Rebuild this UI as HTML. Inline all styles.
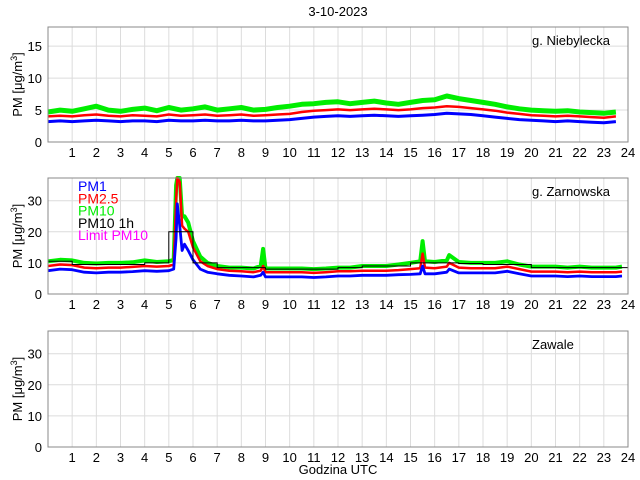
<!DOCTYPE html>
<html><head><meta charset="utf-8"><style>
body{margin:0;background:#fff;}
svg{display:block;font-family:"Liberation Sans",sans-serif;}
</style></head><body>
<svg id="c" width="640" height="480"></svg>
<script>
// Panel 1 data (g. Niebylecka), half-hour steps from 0
const niebyPM1=[3.2,3.3,3.2,3.3,3.4,3.3,3.2,3.3,3.3,3.2,3.4,3.3,3.3,3.4,3.3,3.3,3.4,3.3,3.3,3.4,3.5,3.7,3.9,4.0,4.1,4.0,4.1,4.2,4.1,4.0,4.1,4.2,4.3,4.5,4.4,4.3,4.1,3.9,3.7,3.5,3.4,3.3,3.2,3.3,3.2,3.1,3.0,3.2];
const niebyPM25=[4.0,4.1,4.0,4.2,4.3,4.1,4.0,4.2,4.1,4.0,4.3,4.1,4.2,4.3,4.1,4.2,4.3,4.1,4.2,4.3,4.4,4.7,4.9,5.0,5.1,5.0,5.1,5.2,5.1,5.0,5.1,5.3,5.4,5.6,5.5,5.3,5.1,4.9,4.6,4.4,4.2,4.1,4.0,4.1,4.0,3.9,3.8,4.0];
const niebyPM10=[4.7,5.0,4.8,5.2,5.6,5.0,4.8,5.1,5.3,4.9,5.4,5.0,5.2,5.5,5.0,5.2,5.4,5.0,5.1,5.4,5.6,5.9,6.0,6.2,6.3,6.0,6.2,6.4,6.1,5.9,6.2,6.5,6.6,7.2,6.8,6.5,6.2,5.9,5.5,5.2,5.0,4.9,4.8,4.9,4.7,4.6,4.5,4.7];
// Panel 2 data (g. Zarnowska)
const zarTimes=[0,0.5,1,1.5,2,2.5,3,3.5,4,4.5,5,5.2,5.3,5.35,5.45,5.55,5.65,5.8,6,6.3,6.6,7,7.5,8,8.5,8.8,8.9,9,9.5,10,10.5,11,11.5,12,12.5,13,13.5,14,14.5,15,15.4,15.5,15.6,16,16.5,16.6,17,17.5,18,18.5,19,19.5,20,20.5,21,21.5,22,22.5,23,23.5,23.75];
const zarPM1=[7.5,8,7.8,7,6.8,7,7,7.2,7.5,7.3,7.5,8,18,29,22,14,16,14,11,8,7,6.5,6,5.8,5.5,6,7,5.5,5.5,5.5,5.5,5.3,5.5,5.8,5.8,6,6,6,6.2,6.3,6.5,9,6.5,6.5,7,8,6.8,6.8,6.8,6.8,7.3,6.5,5.8,5.8,5.8,5.6,5.8,5.6,5.6,5.6,5.8];
const zarPM25=[9,9.5,9.3,8.5,8.3,8.5,8.5,8.7,9,8.8,9,9.5,30,38,36,22,21,20,15,10.5,9,8,7.5,7.3,7,7.5,9,7,7,7,7,6.8,7,7.3,7.3,7.5,7.5,7.5,7.7,8,8.3,13,8.5,8.3,8.8,10,8.5,8.3,8.3,8.3,8.8,8,7.2,7.2,7.2,7,7.2,7,7,7,7.2];
const zarPM10=[10.5,11,10.8,10,9.8,10,10,10.2,10.8,10.3,10.5,11,35,38,38,25,25,23,17,12,10,9,8.5,8.5,8.2,9,14.5,8.2,8.2,8.2,8.2,8,8.2,8.5,8.5,9,9,9,9.5,10,10.5,17,10.5,10.3,10.8,12.5,10.3,10,10,10,10.5,9.5,8.8,8.8,8.8,8.5,8.8,8.5,8.5,8.5,8.8];
const zar1hHours=[0,1,2,3,4,5,6,7,8,9,10,11,12,13,14,15,16,17,18,19,20,21,22,23];
const zar1hValues=[10.5,9.5,9.5,9.5,10,20,10,8.5,8.5,8,8,8,8.5,9,9,10,10,9.8,9.5,9.5,8.5,8.5,8.5,8.5];
const xTicks=[1,2,3,4,5,6,7,8,9,10,11,12,13,14,15,16,17,18,19,20,21,22,23,24];
const yTicks1=[0,5,10,15];
const yTicks2=[0,10,20,30];
const legendLabels=["PM1","PM2.5","PM10","PM10 1h","Limit PM10"];
const legendColors=["#0000ff","#ff0000","#00ee00","#000000","#ff00ff"];

const NS="http://www.w3.org/2000/svg";
const svg=document.getElementById('c');
const X0=48,X1=628;
function xs(h){return X0+h*(X1-X0)/24;}
function mk(tag,attrs,parent){const e=document.createElementNS(NS,tag);for(const k in attrs)e.setAttribute(k,attrs[k]);(parent||svg).appendChild(e);return e;}

const panels=[
 {top:27,bot:142,ymax:18,ticks:yTicks1,label:"g. Niebylecka",name:"niebylecka"},
 {top:178,bot:294,ymax:37.3,ticks:yTicks2,label:"g. Zarnowska",name:"zarnowska"},
 {top:331,bot:447,ymax:37.3,ticks:yTicks2,label:"Zawale",name:"zawale"}
];
panels.forEach((p,pi)=>{
  const g=mk('g',{});
  
  
  const ys=v=>p.bot-Math.min(v,p.ymax)*(p.bot-p.top)/p.ymax;
  p.ys=ys;p.g=g;
  mk('rect',{x:X0,y:p.top,width:X1-X0,height:p.bot-p.top,fill:'#fff'},g);
  xTicks.forEach(h=>{
    const l=mk('line',{x1:xs(h),x2:xs(h),y1:p.top,y2:p.bot,stroke:'#dcdcdc','stroke-width':1},g);
    
    
    const t=mk('text',{x:xs(h),y:p.bot+15,'font-size':13,'text-anchor':'middle'},g);
    t.textContent=h;
    
    
  });
  p.ticks.forEach(v=>{
    if(v>0){const l=mk('line',{x1:X0,x2:X1,y1:ys(v),y2:ys(v),stroke:'#dcdcdc','stroke-width':1},g);
    
    }
    const t=mk('text',{x:X0-6,y:ys(v)+5,'font-size':13,'text-anchor':'end'},g);
    t.textContent=v;
    
    
  });
  const yl=mk('text',{x:0,y:0,'font-size':13,'text-anchor':'middle',transform:`translate(22,${(p.top+p.bot)/2}) rotate(-90)`},g);
  yl.innerHTML='PM [μg/m<tspan dy="-5" font-size="9">3</tspan><tspan dy="5">]</tspan>';
  
  
  const st=mk('text',{x:532,y:p.top+18,'font-size':13},g);
  st.textContent=p.label;
  
  
});

function line(p,times,vals,color,name,w){
  const d=vals.map((v,i)=>(i?'L':'M')+xs(times[i]).toFixed(1)+','+p.ys(v).toFixed(1)).join('');
  const e=mk('path',{d:d,fill:'none',stroke:color,'stroke-width':w||1.6,'stroke-linejoin':'round'},p.g);
  
  
}
const halfT=niebyPM1.map((_,i)=>i*0.5);
line(panels[0],halfT,niebyPM10,'#00ee00','pm10-line',5);
line(panels[0],halfT,niebyPM25,'#ff0000','pm25-line',2.5);
line(panels[0],halfT,niebyPM1,'#0000ff','pm1-line',3);

// step 1h
{
  const p=panels[1];
  let d='';
  zar1hHours.forEach((h,i)=>{const y=p.ys(zar1hValues[i]).toFixed(1);d+=(i?'L':'M')+xs(h).toFixed(1)+','+y+'L'+xs(h+1).toFixed(1)+','+y;});
  line(p,zarTimes,zarPM10,'#00ee00','pm10-line',4);
  line(p,zarTimes,zarPM25,'#ff0000','pm25-line',2.5);
  line(p,zarTimes,zarPM1,'#0000ff','pm1-line',2.8);
  const e=mk('path',{d:d,fill:'none',stroke:'#000','stroke-width':1},p.g);
  
  
  legendLabels.forEach((s,i)=>{
    const t=mk('text',{x:78,y:191+i*12.3,'font-size':14,fill:legendColors[i]},p.g);
    t.textContent=s;
    
    
  });
}
panels.forEach(p=>{
  const r=mk('rect',{x:X0,y:p.top,width:X1-X0,height:p.bot-p.top,fill:'none',stroke:'#888','stroke-width':1},p.g);
  
  
});
const title=mk('text',{x:338,y:16,'font-size':13,'text-anchor':'middle'});
title.textContent='3-10-2023';


const xl=mk('text',{x:338,y:474,'font-size':13,'text-anchor':'middle'});
xl.textContent='Godzina UTC';


</script>
</body></html>
